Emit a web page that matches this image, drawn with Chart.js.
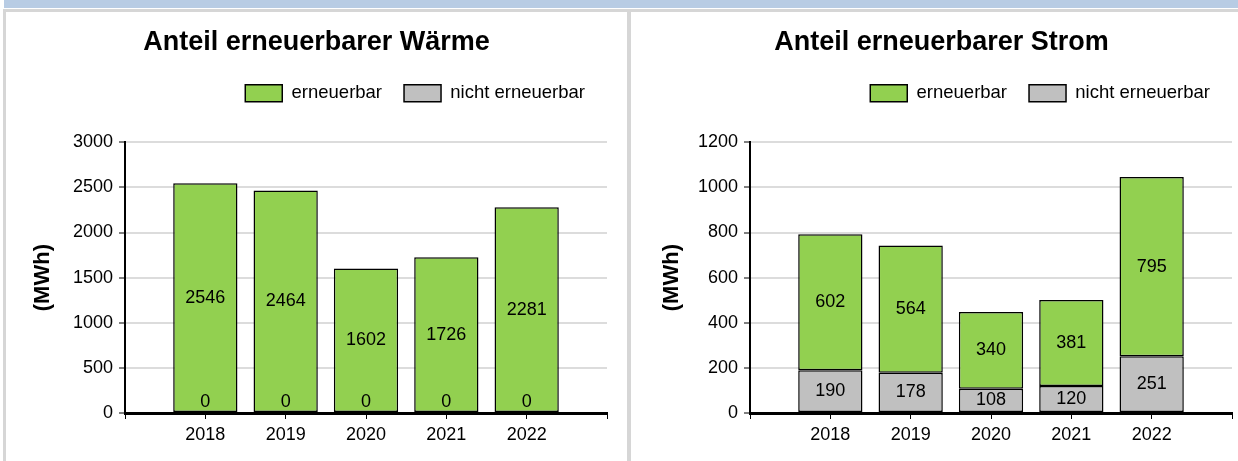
<!DOCTYPE html>
<html>
<head>
<meta charset="utf-8">
<script src="https://cdn.jsdelivr.net/npm/chart.js@4.4.1/dist/chart.umd.min.js"></script>
<style>
  body { margin: 0; width: 1238px; height: 461px; overflow: hidden; background: #fff; position: relative; }
  .strip { position: absolute; left: 4px; top: 0; width: 1234px; height: 8px; background: #b8cce4; }
  .line { position: absolute; background: #d6d6d6; }
  .panel { position: absolute; top: 12px; width: 621px; height: 449px; background: #fff; }
</style>
</head>
<body>
<div class="strip"></div>
<div class="line" style="left:3px;top:9px;width:1235px;height:3px"></div>
<div class="line" style="left:3px;top:9px;width:3px;height:452px"></div>
<div class="line" style="left:627px;top:9px;width:4px;height:452px"></div>
<div class="panel" style="left:6px"><canvas id="waerme" width="621" height="449"></canvas></div>
<div class="panel" style="left:631px"><canvas id="strom" width="621" height="449"></canvas></div>
<script>
var years = ['2018', '2019', '2020', '2021', '2022'];

var waermeErneuerbar = [2546, 2464, 1602, 1726, 2281];
var waermeNicht = [0, 0, 0, 0, 0];

var stromErneuerbar = [602, 564, 340, 381, 795];
var stromNicht = [190, 178, 108, 120, 251];

var FONT = '"Liberation Sans", Arial, sans-serif';

// one empty slot before and after the years, like the original axis
var labels = [''].concat(years, ['']);
function pad(arr) { return [null].concat(arr, [null]); }

// values written in the middle of each bar segment
var valueLabels = {
  id: 'valueLabels',
  afterDatasetsDraw: function(chart) {
    var ctx = chart.ctx;
    ctx.save();
    ctx.font = '18px ' + FONT;
    ctx.fillStyle = '#000';
    ctx.textAlign = 'center';
    ctx.textBaseline = 'middle';
    chart.data.datasets.forEach(function(ds, i) {
      chart.getDatasetMeta(i).data.forEach(function(bar, j) {
        var v = ds.data[j];
        if (v === null || v === undefined) return;
        var y = Math.min((bar.y + bar.base) / 2, bar.base - 11);
        ctx.fillText(String(v), bar.x, y);
      });
    });
    ctx.restore();
  }
};

function legendGap(gap) {
  return {
    id: 'legendGap',
    beforeInit: function(chart) {
      var fit = chart.legend.fit;
      chart.legend.fit = function() {
        fit.call(this);
        this.height += gap;
      };
    }
  };
}

function drawChart(id, title, nicht, erneuerbar, max, step, yTitlePad) {
  var ctx = document.getElementById(id).getContext('2d');
  return new Chart(ctx, {
    type: 'bar',
    data: {
      labels: labels,
      datasets: [
        {
          label: 'nicht erneuerbar',
          data: pad(nicht),
          backgroundColor: '#c0c0c0',
          borderColor: '#000',
          borderWidth: 1.5,
          borderSkipped: false,
          barPercentage: 0.8,
          categoryPercentage: 1
        },
        {
          label: 'erneuerbar',
          data: pad(erneuerbar),
          backgroundColor: '#92d050',
          borderColor: '#000',
          borderWidth: 1.5,
          borderSkipped: false,
          barPercentage: 0.8,
          categoryPercentage: 1
        }
      ]
    },
    options: {
      responsive: false,
      animation: false,
      layout: { padding: { left: 20, right: 20, top: 0, bottom: 0 } },
      plugins: {
        title: {
          display: true,
          text: title,
          color: '#000',
          font: { size: 27, weight: 'bold', family: FONT },
          padding: { top: 14.4, bottom: 3.2 }
        },
        legend: {
          position: 'top',
          align: 'end',
          fullSize: false,
          reverse: true,
          labels: {
            boxWidth: 37,
            boxHeight: 17,
            padding: 22,
            color: '#000',
            font: { size: 18.5, family: FONT }
          }
        },
        tooltip: { enabled: false }
      },
      scales: {
        x: {
          stacked: true,
          offset: false,
          grid: { offset: false, drawOnChartArea: false, drawTicks: true, tickLength: 6, tickColor: '#000', tickWidth: 1 },
          border: { color: '#000', width: 3 },
          ticks: { color: '#000', font: { size: 18, family: FONT }, padding: 5, maxRotation: 0, autoSkip: false },
          afterFit: function(s) { s.height = 48; }
        },
        y: {
          stacked: true,
          min: 0,
          max: max,
          ticks: {
            stepSize: step,
            color: '#000',
            font: { size: 18, family: FONT },
            padding: 6,
            callback: function(v) { return String(v); }
          },
          grid: { color: '#dcdcdc', lineWidth: 2, tickColor: '#000', tickLength: 6, tickWidth: 1 },
          border: { color: '#000', width: 2 },
          title: {
            display: true,
            text: '(MWh)',
            color: '#000',
            font: { size: 22, weight: 'bold', family: FONT },
            padding: { top: yTitlePad, bottom: 0 }
          },
          afterFit: function(s) { s.width = 99; }
        }
      }
    },
    plugins: [valueLabels, legendGap(29.75)]
  });
}

drawChart('waerme', 'Anteil erneuerbarer Wärme', waermeNicht, waermeErneuerbar, 3000, 500, 3.8);
drawChart('strom', 'Anteil erneuerbarer Strom', stromNicht, stromErneuerbar, 1200, 200, 7.8);
</script>
</body>
</html>
